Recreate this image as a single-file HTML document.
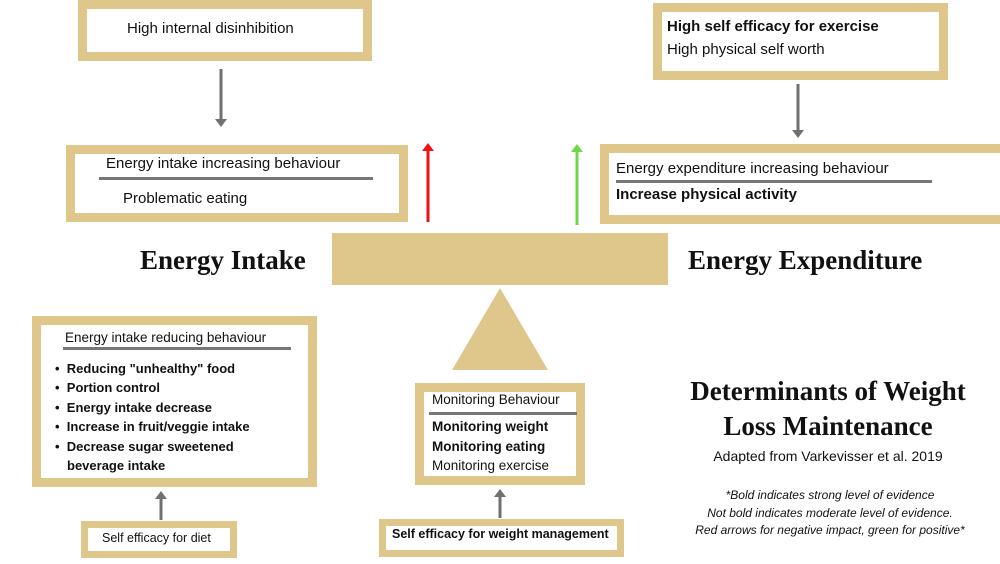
<!DOCTYPE html>
<html><head><meta charset="utf-8"><style>
body{margin:0;width:1000px;height:564px;overflow:hidden;background:#fff;position:relative;font-family:"Liberation Sans",sans-serif;color:#111}
.b{position:absolute;background:#fff;box-sizing:border-box;border:9px solid #dfc78c}
.t{position:absolute;white-space:nowrap}
.s{font-family:"Liberation Serif",serif;font-weight:bold}
.hr{position:absolute;height:3px;background:#777}
.bl{font-weight:bold;font-size:13px;position:absolute;left:55px;white-space:nowrap}
</style></head><body>
<svg style="position:absolute;left:0;top:0" width="1000" height="564">
<rect x="332" y="233" width="336" height="52" fill="#dfc78c"/>
<polygon points="500,288 548,370 452,370" fill="#dfc78c"/>
<g stroke="#707070" stroke-width="3" fill="#707070">
<line x1="221" y1="69" x2="221" y2="120"/><polygon points="215,119 227,119 221,127" stroke="none"/>
<line x1="798" y1="84" x2="798" y2="131"/><polygon points="792,130 804,130 798,138" stroke="none"/>
<line x1="161" y1="520" x2="161" y2="498"/><polygon points="155,499 167,499 161,491" stroke="none"/>
<line x1="500" y1="518" x2="500" y2="496"/><polygon points="494,497 506,497 500,489" stroke="none"/>
</g>
<line x1="428" y1="222" x2="428" y2="150" stroke="#ee1111" stroke-width="3"/><polygon points="422,151 434,151 428,143" fill="#ee1111"/>
<line x1="577" y1="225" x2="577" y2="151" stroke="#6fd64a" stroke-width="3"/><polygon points="571,152 583,152 577,144" fill="#6fd64a"/>
</svg>

<div class="b" style="left:78px;top:0;width:294px;height:61px"></div>
<div class="t" style="left:127px;top:20px;font-size:15px">High internal disinhibition</div>

<div class="b" style="left:66px;top:145px;width:342px;height:77px"></div>
<div class="t" style="left:106px;top:155px;font-size:15px">Energy intake increasing behaviour</div>
<div class="hr" style="left:99px;top:177px;width:274px"></div>
<div class="t" style="left:123px;top:190px;font-size:15px">Problematic eating</div>

<div class="b" style="left:653px;top:3px;width:295px;height:77px"></div>
<div class="t" style="left:667px;top:18px;font-size:15px;font-weight:bold">High self efficacy for exercise</div>
<div class="t" style="left:667px;top:41px;font-size:15px">High physical self worth</div>

<div class="b" style="left:600px;top:144px;width:410px;height:80px"></div>
<div class="t" style="left:616px;top:160px;font-size:15px">Energy expenditure increasing behaviour</div>
<div class="hr" style="left:616px;top:180px;width:316px"></div>
<div class="t" style="left:616px;top:186px;font-size:15px;font-weight:bold">Increase physical activity</div>

<div class="t s" style="left:140px;top:245px;font-size:27px">Energy Intake</div>
<div class="t s" style="left:688px;top:245px;font-size:27px">Energy Expenditure</div>

<div class="b" style="left:32px;top:316px;width:285px;height:171px"></div>
<div class="t" style="left:65px;top:330px;font-size:13.5px">Energy intake reducing behaviour</div>
<div class="hr" style="left:63px;top:347px;width:228px"></div>
<div class="bl" style="top:361px">•&nbsp; Reducing "unhealthy" food</div>
<div class="bl" style="top:380px">•&nbsp; Portion control</div>
<div class="bl" style="top:400px">•&nbsp; Energy intake decrease</div>
<div class="bl" style="top:419px">•&nbsp; Increase in fruit/veggie intake</div>
<div class="bl" style="top:439px">•&nbsp; Decrease sugar sweetened</div>
<div class="bl" style="top:458px;left:67px">beverage intake</div>

<div class="b" style="left:415px;top:383px;width:170px;height:102px"></div>
<div class="t" style="left:432px;top:392px;font-size:13.5px">Monitoring Behaviour</div>
<div class="hr" style="left:429px;top:412px;width:148px"></div>
<div class="t" style="left:432px;top:419px;font-size:13.5px;font-weight:bold">Monitoring weight</div>
<div class="t" style="left:432px;top:439px;font-size:13.5px;font-weight:bold">Monitoring eating</div>
<div class="t" style="left:432px;top:458px;font-size:13.5px">Monitoring exercise</div>

<div class="b" style="left:81px;top:521px;width:156px;height:37px;border-width:7px"></div>
<div class="t" style="left:102px;top:531px;font-size:12.5px">Self efficacy for diet</div>
<div class="b" style="left:379px;top:519px;width:245px;height:38px;border-width:7px"></div>
<div class="t" style="left:392px;top:527px;font-size:12.5px;font-weight:bold">Self efficacy for weight management</div>

<div class="t s" style="left:650px;width:356px;text-align:center;top:376px;font-size:27px">Determinants of Weight</div>
<div class="t s" style="left:650px;width:356px;text-align:center;top:411px;font-size:27px">Loss Maintenance</div>
<div class="t" style="left:650px;width:356px;text-align:center;top:448px;font-size:14px">Adapted from Varkevisser et al. 2019</div>
<div class="t" style="left:650px;width:360px;text-align:center;top:487px;font-size:12px;font-style:italic;line-height:17.5px">*Bold indicates strong level of evidence<br>Not bold indicates moderate level of evidence.<br>Red arrows for negative impact, green for positive*</div>
</body></html>
